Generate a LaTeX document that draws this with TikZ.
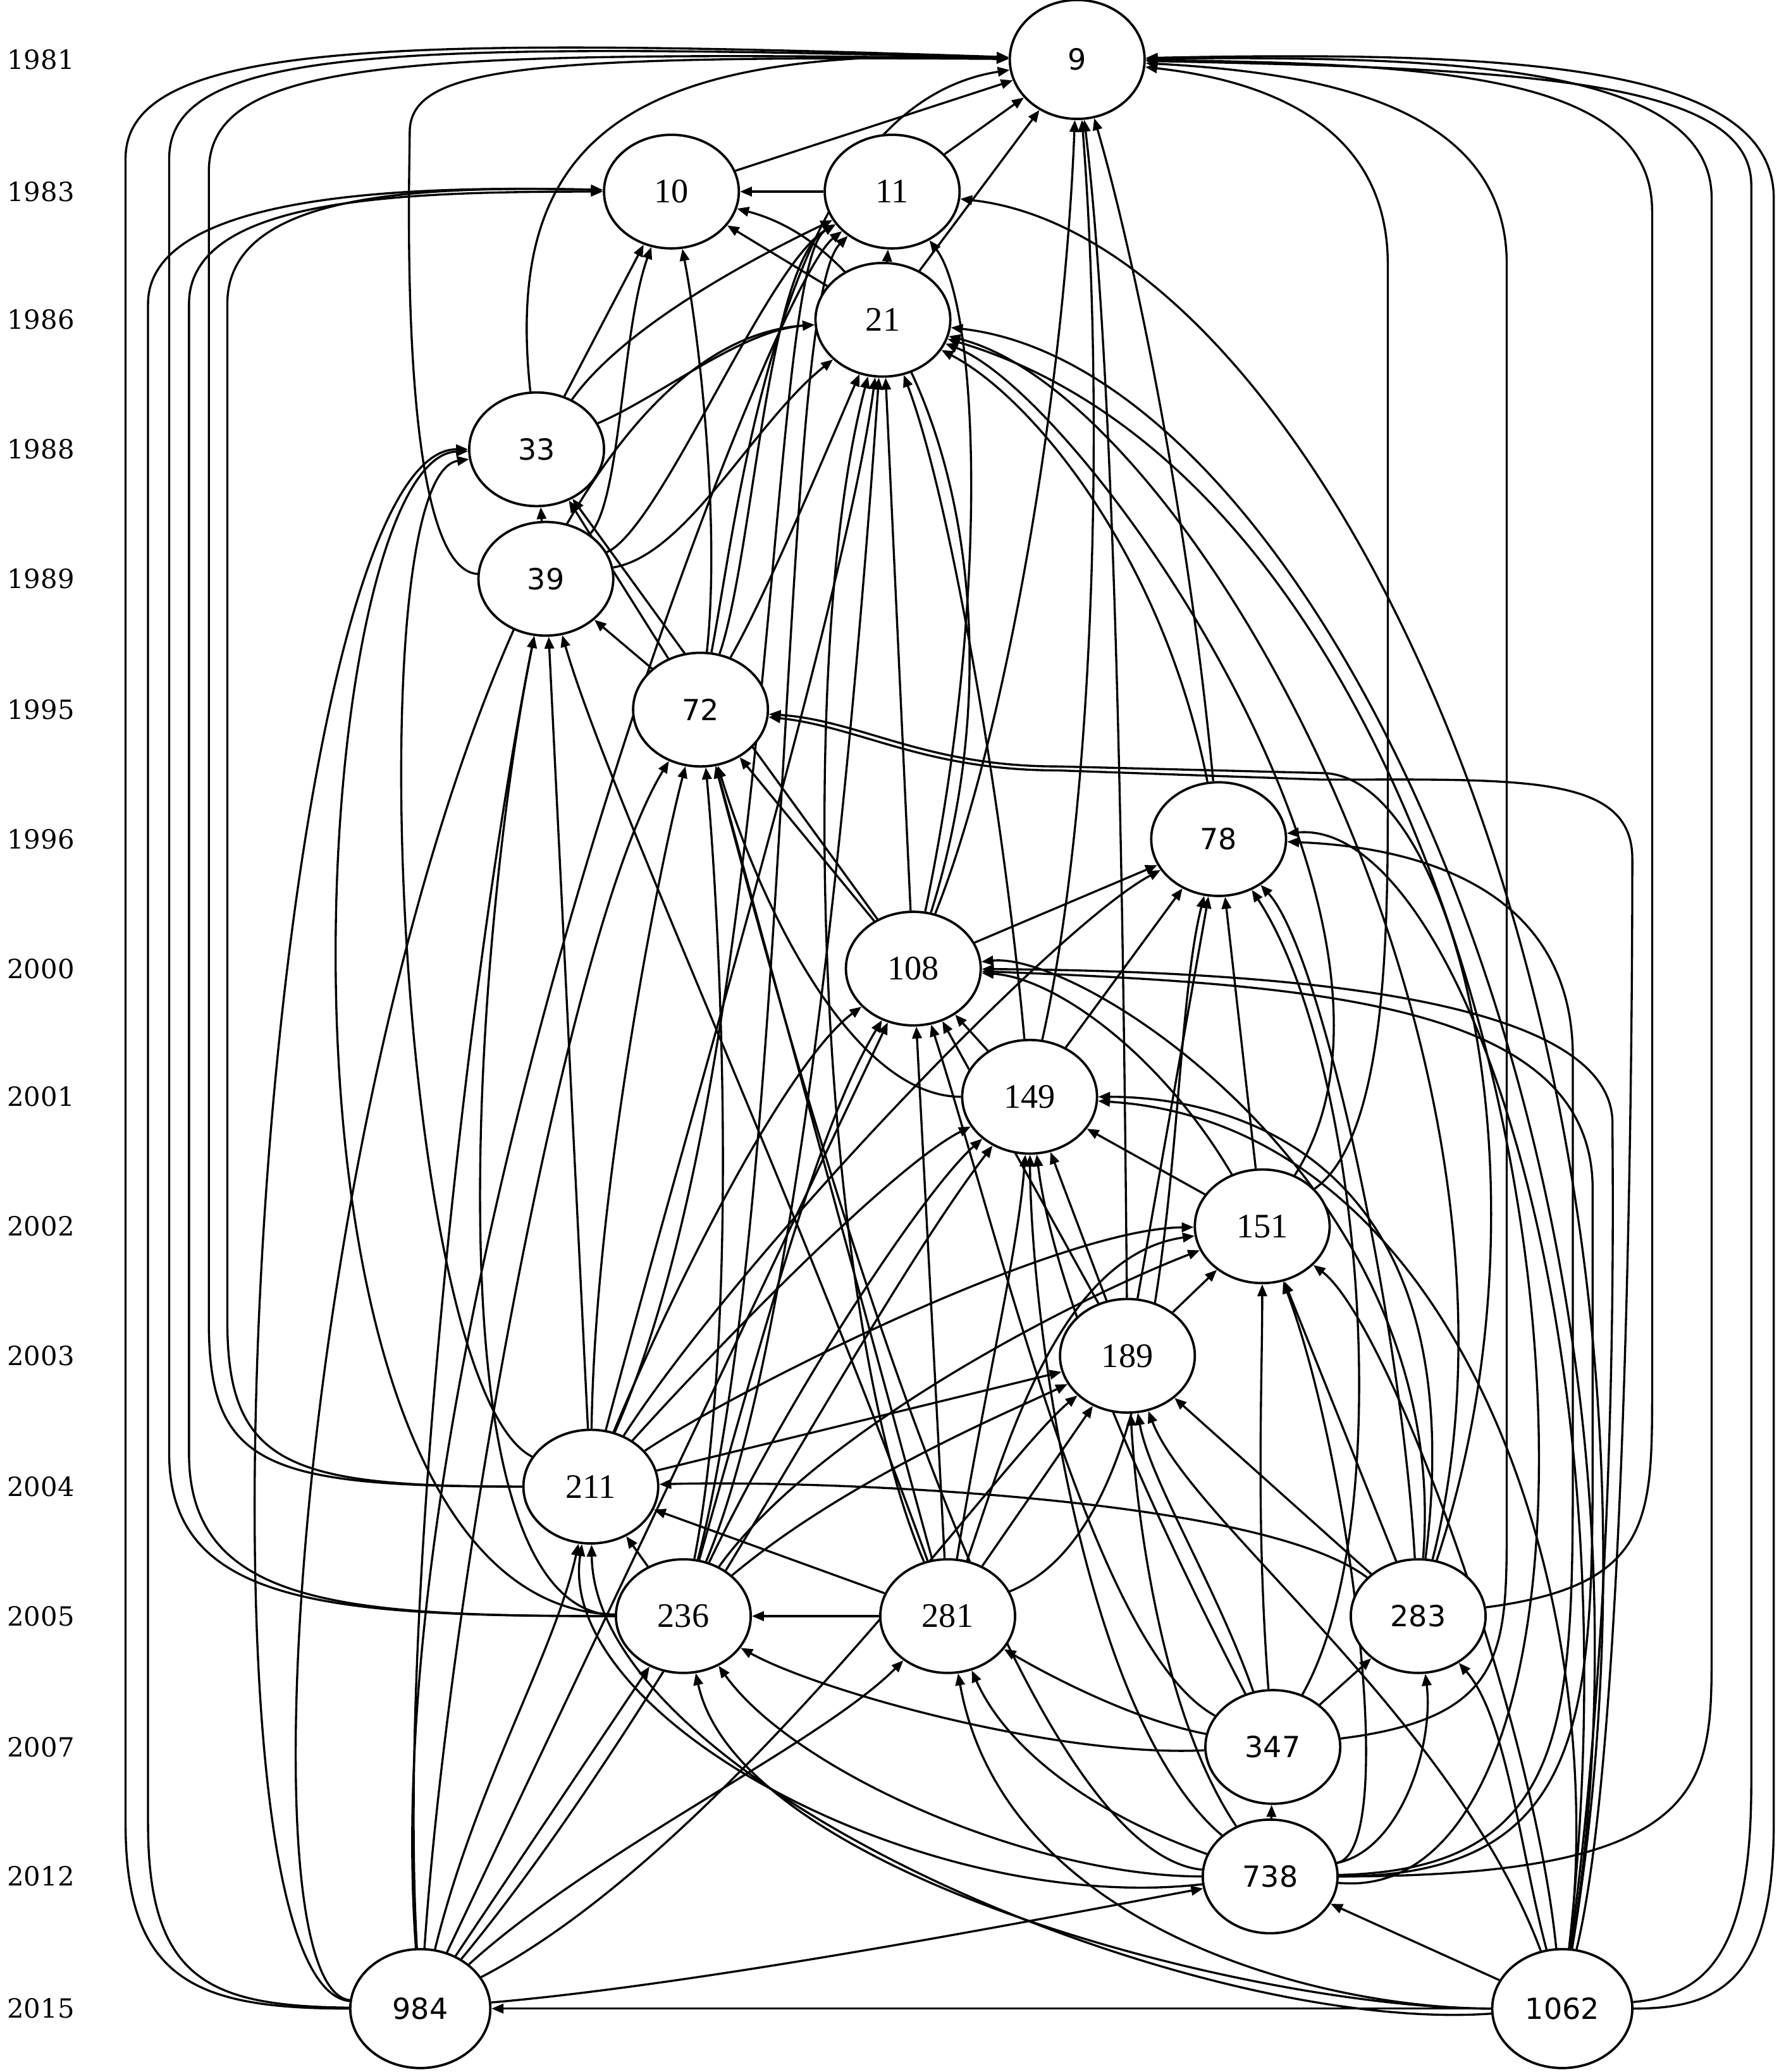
\documentclass[tikz,border=0pt]{standalone}
\usepackage{fontspec}
\setmainfont{Liberation Serif}
\newfontfamily\sanslab{DejaVu Sans}
\newfontfamily\yearfont{DejaVu Serif}
\usetikzlibrary{arrows.meta,shapes.geometric}
\pgfdeclarelayer{bg}
\pgfsetlayers{bg,main}
\begin{document}
\begin{tikzpicture}[x=0.5pt,y=-0.5pt,
  nd/.style={draw, ellipse, line width=0.9pt, fill=white, minimum width=51pt, minimum height=43pt, inner sep=0pt, font=\fontsize{13}{13}\selectfont},
  sn/.style={nd, font=\sanslab\fontsize{11}{11}\selectfont},
  yr/.style={anchor=west, font=\yearfont\fontsize{10}{10}\selectfont, inner sep=0pt},
  e/.style={-{Triangle[length=4.5pt,width=3.6pt]}, line width=0.8pt}]
\useasboundingbox (0,0) rectangle (1355,1568);
% year labels
\node[yr] (y1981) at (5,45) {1981};
\node[yr] (y1983) at (5,145) {1983};
\node[yr] (y1986) at (5,242) {1986};
\node[yr] (y1988) at (5,340) {1988};
\node[yr] (y1989) at (5,438) {1989};
\node[yr] (y1995) at (5,537) {1995};
\node[yr] (y1996) at (5,635) {1996};
\node[yr] (y2000) at (5,733) {2000};
\node[yr] (y2001) at (5,830) {2001};
\node[yr] (y2002) at (5,928) {2002};
\node[yr] (y2003) at (5,1026) {2003};
\node[yr] (y2004) at (5,1125) {2004};
\node[yr] (y2005) at (5,1223) {2005};
\node[yr] (y2007) at (5,1322) {2007};
\node[yr] (y2012) at (5,1420) {2012};
\node[yr] (y2015) at (5,1520) {2015};
% nodes
\node[sn, minimum height=45pt] (n9) at (815,45) {9};
\node[nd] (n10) at (508,145) {10};
\node[nd] (n11) at (675,145) {11};
\node[nd] (n21) at (668,242) {21};
\node[sn] (n33) at (406,340) {33};
\node[sn] (n39) at (413,438) {39};
\node[sn] (n72) at (530,537) {72};
\node[sn] (n78) at (922,635) {78};
\node[nd] (n108) at (691,733) {108};
\node[nd] (n149) at (779,830) {149};
\node[nd] (n151) at (955,928) {151};
\node[nd] (n189) at (853,1026) {189};
\node[nd] (n211) at (447,1125) {211};
\node[nd] (n236) at (517,1223) {236};
\node[nd] (n281) at (717,1223) {281};
\node[sn] (n283) at (1073,1223) {283};
\node[sn] (n347) at (963,1322) {347};
\node[sn] (n738) at (961,1420) {738};
\node[sn, minimum width=53pt, minimum height=45pt] (n984) at (318,1520) {984};
\node[sn, minimum width=53pt, minimum height=45pt] (n1062) at (1182,1520) {1062};
\begin{pgfonlayer}{bg}
% top cluster
\draw[e] (n10) -- (n9);
\draw[e] (n11) -- (n9);
\draw[e] (n11) -- (n10);
\draw[e] (n21) -- (n9);
\draw[e] (n21) -- (n10);
\draw[e] (n21) -- (n11);
% 33
\draw[e] (n33) .. controls (380,100) and (480,35) .. (n9);
\draw[e] (n33) -- (n10);
\draw[e] (n33) .. controls (470,250) and (560,200) .. (n11);
\draw[e] (n33) .. controls (500,300) and (560,250) .. (n21);
% 39
\draw[e] (n39) .. controls (300,430) and (310,130) .. (310,100) .. controls (310,50) and (400,42) .. (n9);
\draw[e] (n39) .. controls (470,380) and (470,250) .. (n10);
\draw[e] (n39) .. controls (500,400) and (580,200) .. (n11);
\draw[e] (n39) .. controls (520,420) and (570,320) .. (n21);
\draw[e] (n39) -- (n33);
% 72
\draw[e] (n72) .. controls (560,380) and (590,80) .. (n9);
\draw[e] (n72) .. controls (545,400) and (530,260) .. (n10);
\draw[e] (n72) .. controls (570,420) and (580,200) .. (n11);
\draw[e] (n72) .. controls (580,450) and (630,330) .. (n21);
\draw[e] (n72) -- (n33);
\draw[e] (n72) -- (n39);
% 78
\draw[e] (n78) .. controls (900,400) and (860,200) .. (n9);
\draw[e] (n78) .. controls (880,420) and (780,300) .. (n21);
% 108
\draw[e] (n108) .. controls (760,560) and (805,300) .. (n9);
\draw[e] (n108) .. controls (780,450) and (700,195) .. (n10);
\draw[e] (n108) .. controls (750,450) and (740,230) .. (n11);
\draw[e] (n108) -- (n21);
\draw[e] (n108) -- (n33);
\draw[e] (n108) -- (n72);
\draw[e] (n108) -- (n78);
% 149
\draw[e] (n149) .. controls (830,600) and (835,300) .. (n9);
\draw[e] (n149) .. controls (760,620) and (720,380) .. (n21);
\draw[e] (n149) -- (n78);
\draw[e] (n149) -- (n108);
\draw[e] (n149) .. controls (650,830) and (580,700) .. (n72);
% 151
\draw[e] (n151) .. controls (1050,860) and (1050,700) .. (1050,600) -- (1050,200) .. controls (1050,90) and (950,60) .. (n9);
\draw[e] (n151) -- (n78);
\draw[e] (n151) .. controls (880,800) and (800,740) .. (n108);
\draw[e] (n151) -- (n149);
\draw[e] (n151) .. controls (1100,700) and (820,300) .. (n21);
% 189
\draw[e] (n189) .. controls (850,700) and (845,300) .. (n9);
\draw[e] (n189) -- (n78);
\draw[e] (n189) -- (n108);
\draw[e] (n189) -- (n149);
\draw[e] (n189) -- (n151);
% 211
\draw[e] (n211) .. controls (200,1125) and (158,1110) .. (158,1000) -- (158,130) .. controls (158,45) and (300,38) .. (n9);
\draw[e] (n211) .. controls (220,1125) and (172,1110) .. (172,1000) -- (172,230) .. controls (172,150) and (300,140) .. (n10);
\draw[e] (n211) .. controls (300,1050) and (270,360) .. (n33);
\draw[e] (n211) -- (n39);
\draw[e] (n211) .. controls (450,900) and (500,650) .. (n72);
\draw[e] (n211) .. controls (520,850) and (640,450) .. (n21);
\draw[e] (n211) .. controls (590,800) and (580,200) .. (n11);
\draw[e] (n211) .. controls (520,950) and (600,800) .. (n108);
\draw[e] (n211) .. controls (560,1000) and (680,880) .. (n149);
\draw[e] (n211) .. controls (560,1050) and (800,930) .. (n151);
\draw[e] (n211) -- (n189);
\draw[e] (n211) .. controls (560,950) and (800,700) .. (n78);
% 236
\draw[e] (n236) .. controls (250,1223) and (128,1215) .. (128,1100) -- (128,120) .. controls (128,35) and (300,32) .. (n9);
\draw[e] (n236) .. controls (260,1223) and (143,1215) .. (143,1100) -- (143,230) .. controls (143,150) and (300,145) .. (n10);
\draw[e] (n236) .. controls (180,1215) and (230,345) .. (n33);
\draw[e] (n236) .. controls (320,1220) and (360,700) .. (n39);
\draw[e] (n236) -- (n211);
\draw[e] (n236) .. controls (560,1000) and (545,700) .. (n72);
\draw[e] (n236) .. controls (580,1000) and (620,850) .. (n108);
\draw[e] (n236) .. controls (600,1050) and (700,900) .. (n149);
\draw[e] (n236) .. controls (620,1080) and (820,980) .. (n151);
\draw[e] (n236) .. controls (640,1120) and (760,1070) .. (n189);
\draw[e] (n236) .. controls (610,1000) and (650,500) .. (n21);
\draw[e] (n236) .. controls (600,900) and (590,230) .. (n11);
% 281
\draw[e] (n281) -- (n236);
\draw[e] (n281) -- (n211);
\draw[e] (n281) -- (n189);
\draw[e] (n281) .. controls (745,1050) and (770,950) .. (n149);
\draw[e] (n281) -- (n108);
\draw[e] (n281) -- (n72);
\draw[e] (n281) .. controls (600,900) and (460,600) .. (n39);
\draw[e] (n281) .. controls (760,1100) and (800,950) .. (n151);
\draw[e] (n281) .. controls (900,1150) and (880,800) .. (n78);
\draw[e] (n281) .. controls (620,1000) and (600,500) .. (n21);
% 283
\draw[e] (n283) .. controls (1250,1200) and (1250,1150) .. (1250,1050) -- (1250,160) .. controls (1250,60) and (1100,48) .. (n9);
\draw[e] (n283) .. controls (1060,1000) and (1000,720) .. (n78);
\draw[e] (n283) .. controls (1100,900) and (820,720) .. (n108);
\draw[e] (n283) .. controls (1120,850) and (900,830) .. (n149);
\draw[e] (n283) -- (n151);
\draw[e] (n283) -- (n189);
\draw[e] (n283) .. controls (950,1130) and (600,1120) .. (n211);
\draw[e] (n283) .. controls (1180,900) and (1100,585) .. (1000,585) -- (800,580) .. controls (700,580) and (650,545) .. (n72);
\draw[e] (n283) .. controls (1180,800) and (900,300) .. (n21);
% 347
\draw[e] (n347) -- (n283);
\draw[e] (n347) .. controls (850,1300) and (780,1260) .. (n281);
\draw[e] (n347) .. controls (800,1330) and (620,1280) .. (n236);
\draw[e] (n347) .. controls (920,1200) and (870,1120) .. (n189);
\draw[e] (n347) .. controls (950,1150) and (955,1050) .. (n151);
\draw[e] (n347) .. controls (900,1200) and (800,1000) .. (n149);
\draw[e] (n347) .. controls (830,1250) and (760,950) .. (n108);
\draw[e] (n347) .. controls (1060,1150) and (1030,800) .. (n78);
\draw[e] (n347) .. controls (1140,1300) and (1140,1250) .. (1140,1150) -- (1140,200) .. controls (1140,80) and (1000,55) .. (n9);
% 738
\draw[e] (n738) -- (n347);
\draw[e] (n738) .. controls (1060,1400) and (1085,1320) .. (n283);
\draw[e] (n738) .. controls (820,1370) and (760,1320) .. (n281);
\draw[e] (n738) .. controls (780,1420) and (600,1340) .. (n236);
\draw[e] (n738) .. controls (700,1450) and (420,1300) .. (n211);
\draw[e] (n738) .. controls (880,1300) and (860,1150) .. (n189);
\draw[e] (n738) .. controls (1060,1400) and (1020,1100) .. (n151);
\draw[e] (n738) .. controls (820,1300) and (780,1000) .. (n149);
\draw[e] (n738) .. controls (1200,1420) and (1205,1300) .. (1205,1100) -- (1205,900) .. controls (1205,760) and (1000,745) .. (n108);
\draw[e] (n738) .. controls (1190,1415) and (1190,1300) .. (1190,1100) -- (1190,800) .. controls (1190,660) and (1050,640) .. (n78);
\draw[e] (n738) .. controls (1295,1420) and (1295,1350) .. (1295,1250) -- (1295,150) .. controls (1295,50) and (1100,42) .. (n9);
\draw[e] (n738) .. controls (760,1400) and (600,800) .. (n72);
\draw[e] (n738) .. controls (1280,1450) and (1200,400) .. (n21);
% 1062
\draw[e] (n1062) -- (n984);
\draw[e] (n1062) -- (n738);
\draw[e] (n1062) .. controls (1150,1400) and (1140,1300) .. (n283);
\draw[e] (n1062) .. controls (1000,1520) and (760,1460) .. (n281);
\draw[e] (n1062) .. controls (950,1520) and (560,1420) .. (n236);
\draw[e] (n1062) .. controls (900,1540) and (450,1350) .. (n211);
\draw[e] (n1062) .. controls (1100,1300) and (900,1150) .. (n189);
\draw[e] (n1062) .. controls (1160,1300) and (1050,1000) .. (n151);
\draw[e] (n1062) .. controls (1220,1200) and (1100,850) .. (n149);
\draw[e] (n1062) .. controls (1225,1200) and (1220,900) .. (1220,850) .. controls (1220,760) and (1000,735) .. (n108);
\draw[e] (n1062) .. controls (1240,1000) and (1100,620) .. (n78);
\draw[e] (n1062) .. controls (1235,1300) and (1235,700) .. (1235,650) .. controls (1235,585) and (1150,590) .. (1000,590) -- (800,583) .. controls (700,583) and (650,550) .. (n72);
\draw[e] (n1062) .. controls (1280,900) and (1000,280) .. (n21);
\draw[e] (n1062) .. controls (1300,800) and (1000,180) .. (n11);
\draw[e] (n1062) .. controls (1300,1520) and (1342,1500) .. (1342,1380) -- (1342,150) .. controls (1342,50) and (1150,38) .. (n9);
\draw[e] (n1062) .. controls (1290,1510) and (1325,1480) .. (1325,1350) -- (1325,140) .. controls (1325,60) and (1150,52) .. (n9);
% 984
\draw[e] (n984) .. controls (150,1520) and (95,1500) .. (95,1380) -- (95,120) .. controls (95,30) and (300,28) .. (n9);
\draw[e] (n984) .. controls (160,1518) and (112,1500) .. (112,1380) -- (112,230) .. controls (112,148) and (300,140) .. (n10);
\draw[e] (n984) .. controls (130,1500) and (200,340) .. (n33);
\draw[e] (n984) .. controls (150,1500) and (280,270) .. (n21);
\draw[e] (n984) .. controls (280,1000) and (580,220) .. (n11);
\draw[e] (n984) .. controls (300,1200) and (360,700) .. (n39);
\draw[e] (n984) .. controls (340,1200) and (430,700) .. (n72);
\draw[e] (n984) .. controls (360,1350) and (420,1250) .. (n211);
\draw[e] (n984) -- (n236);
\draw[e] (n984) .. controls (450,1400) and (620,1320) .. (n281);
\draw[e] (n984) -- (n108);
\draw[e] (n984) .. controls (500,1300) and (650,1000) .. (n149);
\draw[e] (n984) .. controls (550,1400) and (760,1100) .. (n189);
\draw[e] (n984) .. controls (550,1500) and (850,1440) .. (n738);
\end{pgfonlayer}
\end{tikzpicture}
\end{document}
